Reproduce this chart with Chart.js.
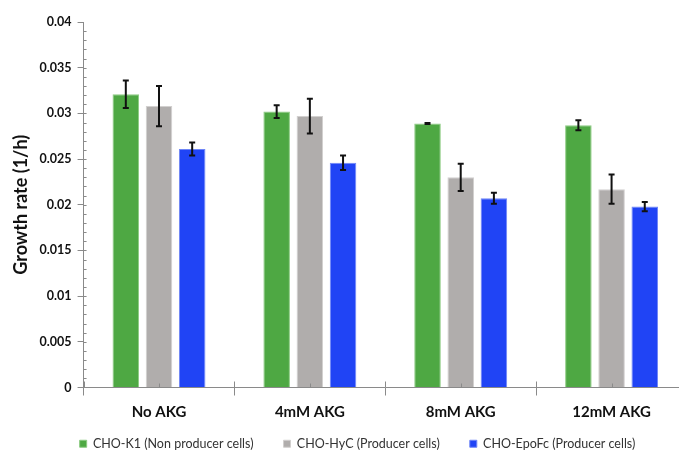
<!DOCTYPE html>
<html>
<head>
<meta charset="utf-8">
<script src="https://cdn.jsdelivr.net/npm/chart.js@4.4.1/dist/chart.umd.min.js"></script>
<style>
  html, body { margin: 0; padding: 0; background: #fff; overflow: hidden; }
  #wrap { position: relative; width: 700px; height: 450px; }
</style>
</head>
<body>
<div id="wrap"><canvas id="growth-chart" width="700" height="450"></canvas></div>
<script>
const categories = ['No AKG', '4mM AKG', '8mM AKG', '12mM AKG'];
const seriesNames = ['CHO-K1 (Non producer cells)', 'CHO-HyC (Producer cells)', 'CHO-EpoFc (Producer cells)'];
const choK1 = [0.0321, 0.0302, 0.0289, 0.0287];
const choK1Err = [0.0015, 0.0007, 0.00005, 0.00055];
const choHyC = [0.0308, 0.0297, 0.0230, 0.0217];
const choHyCErr = [0.0022, 0.0019, 0.0015, 0.0016];
const choEpoFc = [0.0261, 0.0246, 0.0207, 0.0198];
const choEpoFcErr = [0.0007, 0.0008, 0.0006, 0.0005];
const yTicks = [0, 0.005, 0.01, 0.015, 0.02, 0.025, 0.03, 0.035, 0.04];

const errors = [choK1Err, choHyCErr, choEpoFcErr];
const axisGray = '#8a8a8a';

// error bars + the little inner ticks
const extrasPlugin = {
  id: 'extras',
  afterLayout(chart) {
    // nudge the legend to where the original has it
    const lg = chart.legend;
    lg.left += 12;
    lg.right += 12;
    lg.top -= 22;
    lg.bottom -= 22;
  },
  afterDatasetsDraw(chart) {
    const ctx = chart.ctx;
    const y = chart.scales.y;
    const x = chart.scales.x;
    ctx.save();
    ctx.strokeStyle = '#111';
    ctx.lineWidth = 2;
    chart.data.datasets.forEach((ds, i) => {
      const meta = chart.getDatasetMeta(i);
      meta.data.forEach((bar, j) => {
        const top = y.getPixelForValue(ds.data[j] + errors[i][j]);
        const bot = y.getPixelForValue(ds.data[j] - errors[i][j]);
        ctx.beginPath();
        ctx.moveTo(bar.x, top);
        ctx.lineTo(bar.x, bot);
        ctx.moveTo(bar.x - 3, top);
        ctx.lineTo(bar.x + 3, top);
        ctx.moveTo(bar.x - 3, bot);
        ctx.lineTo(bar.x + 3, bot);
        ctx.stroke();
      });
    });

    ctx.strokeStyle = axisGray;
    ctx.lineWidth = 1;
    ctx.beginPath();
    for (let v = 0.001; v < 0.04; v += 0.001) {
      const py = Math.round(y.getPixelForValue(v)) + 0.5;
      ctx.moveTo(x.left, py);
      ctx.lineTo(x.left + 3, py);
    }
    const bw = (x.right - x.left) / categories.length;
    for (let k = 0; k <= categories.length; k++) {
      const px = Math.round(x.left + k * bw) + 0.5;
      ctx.moveTo(px, y.bottom);
      ctx.lineTo(px, y.bottom - 6);
      if (k < categories.length) {
        const cx = Math.round(x.left + (k + 0.5) * bw) + 0.5;
        ctx.moveTo(cx, y.bottom);
        ctx.lineTo(cx, y.bottom - 4);
      }
    }
    ctx.stroke();
    ctx.restore();
  }
};

const ctx = document.getElementById('growth-chart').getContext('2d');
new Chart(ctx, {
  type: 'bar',
  data: {
    labels: categories,
    datasets: [
      { label: seriesNames[0], data: choK1, backgroundColor: '#4ea843', borderColor: '#8ccb82', borderWidth: 1 },
      { label: seriesNames[1], data: choHyC, backgroundColor: '#b0adac', borderColor: '#d2d0cf', borderWidth: 1 },
      { label: seriesNames[2], data: choEpoFc, backgroundColor: '#2044f5', borderColor: '#6f86f7', borderWidth: 1 },
    ],
  },
  options: {
    responsive: false,
    animation: false,
    categoryPercentage: 0.66,
    barPercentage: 0.8,
    layout: { padding: { top: 22, right: 13, left: 4, bottom: -32 } },
    plugins: {
      legend: {
        position: 'bottom',
        labels: {
          boxWidth: 7,
          boxHeight: 7,
          padding: 30,
          color: '#333',
          font: { family: 'Lato', size: 12.5 },
        },
      },
      tooltip: { enabled: false },
    },
    scales: {
      x: {
        grid: { display: true, drawOnChartArea: false, tickLength: 8, color: axisGray },
        border: { color: axisGray },
        ticks: { color: '#111', padding: 8, font: { family: 'Lato', size: 15, weight: 'bold' } },
      },
      y: {
        min: 0,
        max: 0.04,
        afterBuildTicks: (axis) => { axis.ticks = yTicks.map(v => ({ value: v })); },
        grid: { display: true, drawOnChartArea: false, tickLength: 6, color: axisGray },
        border: { color: axisGray },
        ticks: {
          color: '#111',
          padding: 6,
          font: { family: 'Lato', size: 12.5, weight: 'bold' },
          callback: (v) => String(+v.toFixed(3)),
        },
        title: {
          display: true,
          text: 'Growth rate (1/h)',
          color: '#111',
          padding: { top: 6, bottom: 2 },
          font: { family: 'Lato', size: 18, weight: 'bold' },
        },
      },
    },
  },
  plugins: [extrasPlugin],
});
</script>
</body>
</html>
